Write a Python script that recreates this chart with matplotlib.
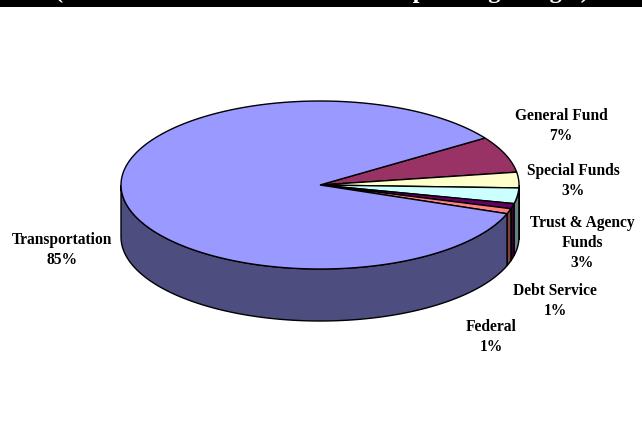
import numpy as np
import matplotlib
matplotlib.use("Agg")
import matplotlib.pyplot as plt
from matplotlib.patches import Polygon, Rectangle

# Budget shares by fund
funds = ["General Fund", "Special Funds", "Trust & Agency\nFunds", "Debt Service", "Federal", "Transportation"]
shares = [7, 3, 3, 1, 1, 85]
top_colors = ["#993366", "#ffffcc", "#ccffff", "#660066", "#ff8080", "#9999ff"]
side_colors = ["#4d1a33", "#808066", "#668080", "#330033", "#804040", "#4d4d80"]
title = "(Based on FY 2001-2002 Formal Operating Budget)"

# label centres in figure pixels
label_x = [561, 573, 582, 555, 491, 62]
label_y = [126, 181, 243, 301, 337, 250]

W, H = 642, 438
cx, cy, rx, ry, depth = 320, 185, 199, 84, 52
start = 34.0

plt.rcParams["font.family"] = "Liberation Serif"
fig = plt.figure(figsize=(W / 100, H / 100), dpi=100)
ax = fig.add_axes([0, 0, 1, 1])
ax.set_xlim(0, W)
ax.set_ylim(H, 0)
ax.axis("off")


def rim(a0, a1, n=120):
    t = np.radians(np.linspace(a0, a1, n))
    return cx + rx * np.cos(t), cy - ry * np.sin(t)


# wedge angles, clockwise from the start angle
ends = start - 360 * np.cumsum(shares) / np.sum(shares)
begins = np.r_[start, ends[:-1]]

# outer wall: only the part of each rim below the middle of the ellipse
for a0, a1, c in zip(begins, ends, side_colors):
    lo, hi = max(a1, -180), min(a0, 0)
    if lo >= hi:
        continue
    x, y = rim(hi, lo)
    pts = np.r_[np.c_[x, y], np.c_[x[::-1], y[::-1] + depth]]
    ax.add_patch(Polygon(pts, closed=True, fc=c, ec="black", lw=1.0, zorder=2))

# top face
for a0, a1, c in zip(begins, ends, top_colors):
    x, y = rim(a0, a1, 240)
    pts = np.r_[[[cx, cy]], np.c_[x, y]]
    ax.add_patch(Polygon(pts, closed=True, fc=c, ec="black", lw=1.0, zorder=3))

# black band across the top with the clipped subtitle
ax.add_patch(Rectangle((0, 0), W, 7, fc="black", ec="none", zorder=4))
t = ax.text(322, -2, title, color="white", fontsize=17.5, fontweight="bold",
            ha="center", va="baseline", zorder=5)

for name, share, x, y in zip(funds, shares, label_x, label_y):
    ax.text(x, y, f"{name}\n{share}%", fontsize=11.2, fontweight="bold", ha="center",
            va="center", linespacing=1.32, zorder=5)

fig.savefig("out.png", dpi=100)
